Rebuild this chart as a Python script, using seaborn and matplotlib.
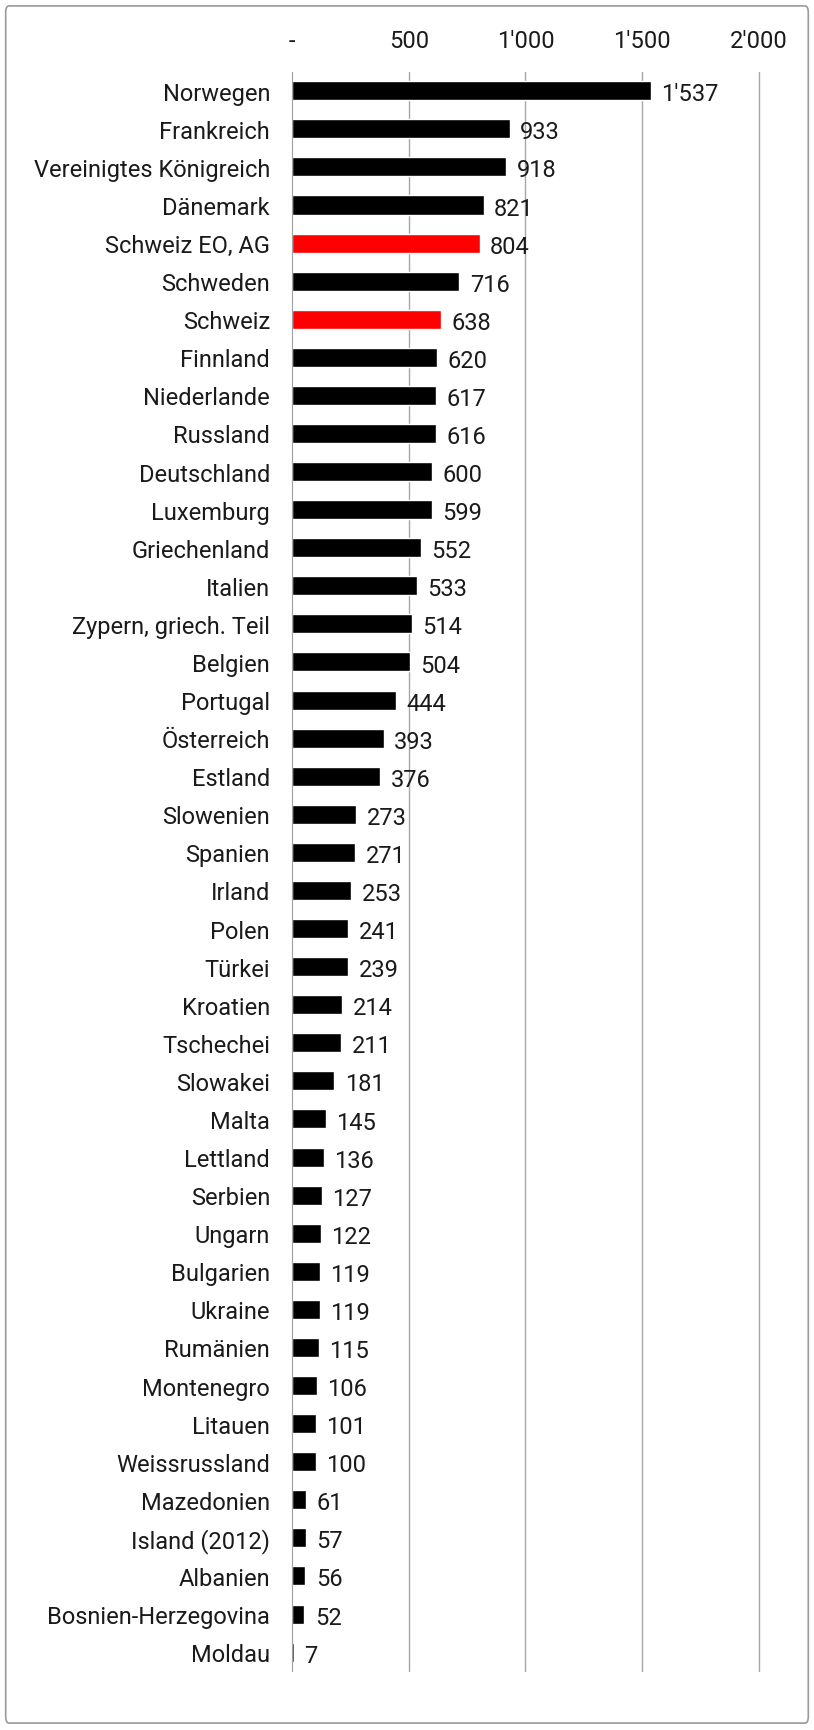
import numpy as np
import pandas as pd
import matplotlib.pyplot as plt
from matplotlib.patches import FancyBboxPatch
import seaborn as sns

# Daten
laender = ['Norwegen', 'Frankreich', 'Vereinigtes Königreich', 'Dänemark',
           'Schweiz EO, AG', 'Schweden', 'Schweiz', 'Finnland', 'Niederlande',
           'Russland', 'Deutschland', 'Luxemburg', 'Griechenland', 'Italien',
           'Zypern, griech. Teil', 'Belgien', 'Portugal', 'Österreich', 'Estland',
           'Slowenien', 'Spanien', 'Irland', 'Polen', 'Türkei', 'Kroatien',
           'Tschechei', 'Slowakei', 'Malta', 'Lettland', 'Serbien', 'Ungarn',
           'Bulgarien', 'Ukraine', 'Rumänien', 'Montenegro', 'Litauen',
           'Weissrussland', 'Mazedonien', 'Island (2012)', 'Albanien',
           'Bosnien-Herzegovina', 'Moldau']
werte = [1537, 933, 918, 821, 804, 716, 638, 620, 617, 616, 600, 599, 552, 533,
         514, 504, 444, 393, 376, 273, 271, 253, 241, 239, 214, 211, 181, 145,
         136, 127, 122, 119, 119, 115, 106, 101, 100, 61, 57, 56, 52, 7]
hervorgehoben = ['Schweiz EO, AG', 'Schweiz']
x_ticks = [0, 500, 1000, 1500, 2000]


def fmt(v):
    return '-' if v == 0 else f"{v:,}".replace(',', "'")


df = pd.DataFrame({'land': laender, 'wert': werte})
farben = ['#FF0000' if l in hervorgehoben else '#000000' for l in laender]

sns.set_style('white')
plt.rcParams['font.family'] = ['Roboto', 'DejaVu Sans']
plt.rcParams['text.color'] = '#1A1A1A'
plt.rcParams['xtick.color'] = '#1A1A1A'
plt.rcParams['ytick.color'] = '#1A1A1A'

fig = plt.figure(figsize=(8.14, 17.31), dpi=100)
ax = fig.add_axes([0.359, 0.034, 0.573, 0.924])

sns.barplot(data=df, y='land', x='wert', hue='land', palette=farben,
            legend=False, width=0.5, saturation=1, ax=ax)

ax.set_xlim(0, 2000)
ax.set_ylim(len(laender) - 0.5, -0.5)
ax.set_xticks(x_ticks)
ax.set_xticklabels([fmt(t) for t in x_ticks])
ax.xaxis.tick_top()
ax.tick_params(axis='x', length=0, pad=14, labelsize=17)
ax.tick_params(axis='y', which='major', length=0, pad=16, labelsize=17)
ax.set_yticks(np.arange(-0.5, len(laender), 1), minor=True)
ax.tick_params(axis='y', which='minor', length=6, color='#A0A0A0', width=1)
ax.set_xlabel('')
ax.set_ylabel('')

for t in x_ticks[1:]:
    ax.axvline(t, color='#A6A6A6', lw=1, zorder=0, clip_on=False)

for s in ['top', 'right', 'bottom']:
    ax.spines[s].set_visible(False)
ax.spines['left'].set_color('#A0A0A0')

for i, v in enumerate(werte):
    ax.text(v + 45, i + 0.08, fmt(v), va='center', ha='left', fontsize=17)

rahmen = FancyBboxPatch((0.007, 0.004), 0.986, 0.992,
                        boxstyle='round,pad=0,rounding_size=0.004',
                        transform=fig.transFigure, fill=False,
                        edgecolor='#9A9A9A', lw=1.2)
fig.patches.append(rahmen)

plt.savefig('out.png', dpi=100)
